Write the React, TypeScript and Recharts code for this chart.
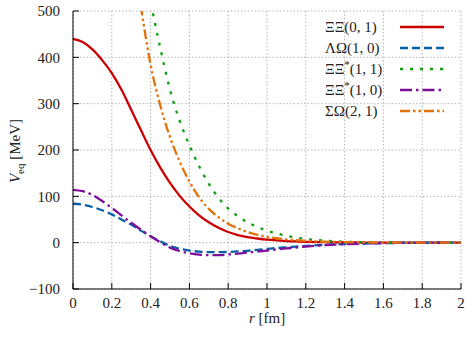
import { CartesianGrid, Line, LineChart, XAxis, YAxis } from 'recharts';

const rValues = [
  0, 0.05, 0.1, 0.15, 0.2, 0.25, 0.3, 0.35, 0.4, 0.45, 0.5, 0.55, 0.6, 0.65, 0.7, 0.75, 0.8, 0.85, 0.9, 0.95, 1.0,
  1.05, 1.1, 1.15, 1.2, 1.3, 1.4, 1.5, 1.6, 1.7, 1.8, 1.9, 2.0,
];

const xixi01 = [
  440, 433, 417, 394, 366, 330, 287, 243, 200, 162, 129, 101, 78, 59, 44, 32, 23, 16.5, 12, 9, 6.5,
  4.8, 3.5, 2.6, 1.9, 1, 0.5, 0.2, 0.1, 0, 0, 0, 0,
];
const lambdaOmega10 = [
  84, 82, 77, 70, 61, 50, 39, 26, 14, 3, -7, -13, -17, -19.5, -20.5, -20.5, -20, -19, -17.5, -15.5, -13.5,
  -11.5, -10, -8.5, -7, -4.5, -3, -1.8, -1, -0.5, -0.2, 0, 0,
];
const xixiStar11 = [
  null, null, null, null, null, null, 750, 630, 520, 420, 330, 263, 210, 165, 127, 97, 74, 57, 44, 34, 26,
  20, 15, 11, 8, 4.3, 2.2, 1.1, 0.5, 0.2, 0.1, 0, 0,
];
const xixiStar10 = [
  114, 111, 103, 90, 75, 59, 43, 28, 14, 1, -11, -18, -23, -26, -27, -27, -25.5, -23.5, -21.5, -19, -17,
  -14.5, -12.5, -10.5, -8.5, -5.5, -3.5, -2, -1, -0.5, -0.2, 0, 0,
];
const sigmaOmega21 = [
  null, null, null, null, null, 820, 660, 510, 384, 296, 228, 175, 132, 98, 73, 55, 41, 31, 23, 17, 12.5,
  9.5, 7, 5.2, 3.8, 2, 1, 0.5, 0.2, 0.1, 0, 0, 0,
];

const xTicks = [0, 0.2, 0.4, 0.6, 0.8, 1, 1.2, 1.4, 1.6, 1.8, 2];
const yTicks = [-100, 0, 100, 200, 300, 400, 500];

const series = [
  { key: 'a', label: 'ΞΞ', star: false, qn: '(0, 1)', values: xixi01, color: '#cc0000', dash: undefined },
  { key: 'b', label: 'ΛΩ', star: false, qn: '(1, 0)', values: lambdaOmega10, color: '#0a5fa8', dash: '8 4' },
  { key: 'c', label: 'ΞΞ', star: true, qn: '(1, 1)', values: xixiStar11, color: '#11a011', dash: '3 7' },
  { key: 'd', label: 'ΞΞ', star: true, qn: '(1, 0)', values: xixiStar10, color: '#7f0f9a', dash: '12 4 2.5 4' },
  { key: 'e', label: 'ΣΩ', star: false, qn: '(2, 1)', values: sigmaOmega21, color: '#e2720c', dash: '10 3 2.5 3 2.5 3' },
];

const data = rValues.map((r, i) => {
  const row: Record<string, number | null> = { r };
  series.forEach((s) => {
    row[s.key] = s.values[i];
  });
  return row;
});

const FONT = "'Liberation Serif', 'Times New Roman', 'DejaVu Serif', serif";
const tickStyle = { fontSize: 15, fill: '#222', fontFamily: FONT };
const fmtY = (v: number) => String(v).replace('-', '\u2212');

export default function App() {
  return (
    <div style={{ position: 'absolute', left: 0, top: 0, width: 469, height: 339, background: '#fff', fontFamily: FONT }}>
      <LineChart width={469} height={339} data={data} margin={{ top: 11, right: 8, left: 0, bottom: 0 }}>
        <CartesianGrid stroke="#b5b5b5" strokeDasharray="1.5 2" />
        <XAxis
          dataKey="r"
          type="number"
          domain={[0, 2]}
          ticks={xTicks}
          height={50}
          tickSize={-6}
          tickMargin={14}
          tick={tickStyle}
          axisLine={{ stroke: '#000' }}
          tickLine={{ stroke: '#000' }}
        />
        <XAxis
          xAxisId="top"
          orientation="top"
          dataKey="r"
          type="number"
          domain={[0, 2]}
          ticks={xTicks}
          height={0}
          tickSize={-6}
          tick={() => <g />}
          axisLine={{ stroke: '#000' }}
          tickLine={{ stroke: '#000' }}
        />
        <YAxis
          type="number"
          domain={[-100, 500]}
          ticks={yTicks}
          allowDataOverflow
          width={73}
          tickSize={-6}
          tickMargin={19}
          tick={tickStyle}
          tickFormatter={fmtY}
          axisLine={{ stroke: '#000' }}
          tickLine={{ stroke: '#000' }}
        />
        <YAxis
          yAxisId="right"
          orientation="right"
          type="number"
          domain={[-100, 500]}
          ticks={yTicks}
          width={0}
          tickSize={-6}
          tick={() => <g />}
          axisLine={{ stroke: '#000' }}
          tickLine={{ stroke: '#000' }}
        />
        {series.map((s) => (
          <Line
            key={s.key}
            dataKey={s.key}
            type="monotone"
            stroke={s.color}
            strokeWidth={2.3}
            strokeDasharray={s.dash}
            dot={false}
            isAnimationActive={false}
          />
        ))}
      </LineChart>
      <svg
        width={469}
        height={339}
        style={{ position: 'absolute', left: 0, top: 0, pointerEvents: 'none', fontFamily: FONT }}
        fontSize={15}
        fill="#222"
      >
        <text transform="translate(20,151) rotate(-90)" textAnchor="middle">
          <tspan fontStyle="italic">V</tspan>
          <tspan fontSize={11} dy={4}>eq</tspan>
          <tspan dy={-4}> [MeV]</tspan>
        </text>
        <text x={267} y={323} textAnchor="middle">
          <tspan fontStyle="italic">r</tspan>
          <tspan> [fm]</tspan>
        </text>
        {series.map((s, i) => {
          const y = 27 + i * 21;
          return (
            <g key={s.key}>
              <text x={325} y={y + 5}>
                {s.label}
                {s.star ? <tspan fontSize={11} dy={-6}>*</tspan> : null}
                <tspan dy={s.star ? 6 : 0}>{s.qn}</tspan>
              </text>
              <line x1={400} x2={444} y1={y} y2={y} stroke={s.color} strokeWidth={2.3} strokeDasharray={s.dash} />
            </g>
          );
        })}
      </svg>
    </div>
  );
}
